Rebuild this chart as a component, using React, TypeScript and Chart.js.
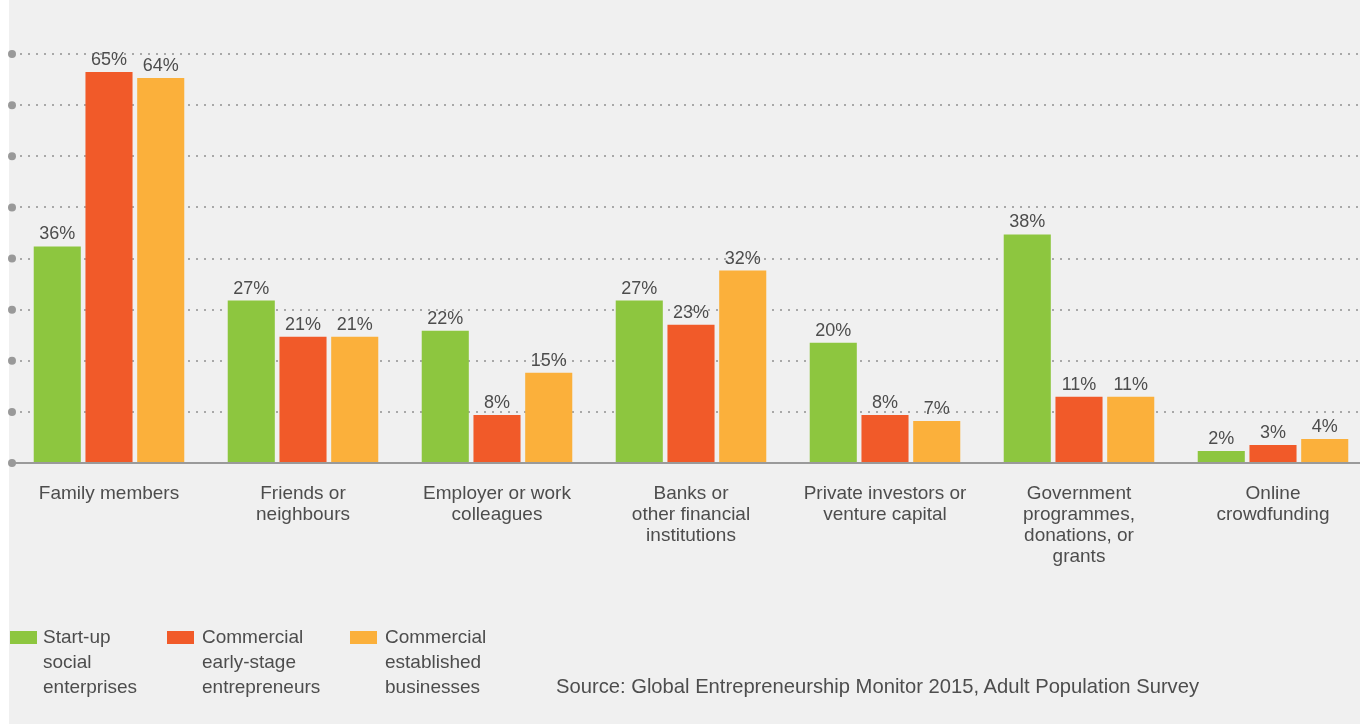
import React, { useEffect, useRef } from "react";
import { Chart, registerables } from "chart.js";

Chart.register(...registerables);

const categories: string[][] = [
  ["Family members"],
  ["Friends or", "neighbours"],
  ["Employer or work", "colleagues"],
  ["Banks or", "other financial", "institutions"],
  ["Private investors or", "venture capital"],
  ["Government", "programmes,", "donations, or", "grants"],
  ["Online", "crowdfunding"],
];

const seriesNames: string[][] = [
  ["Start-up", "social", "enterprises"],
  ["Commercial", "early-stage", "entrepreneurs"],
  ["Commercial", "established", "businesses"],
];

const startupSocial = [36, 27, 22, 27, 20, 38, 2];
const commercialEarly = [65, 21, 8, 23, 8, 11, 3];
const commercialEstablished = [64, 21, 15, 32, 7, 11, 4];

const colors = ["#8DC63F", "#F15A29", "#FBB03B"];
const yMax = 68;
const yStep = 8.5;
const sourceText = "Source: Global Entrepreneurship Monitor 2015, Adult Population Survey";

const FONT = "'Liberation Sans', Arial, sans-serif";
const TEXT = "#4d4d4d";

const decorPlugin = {
  id: "decor",
  afterDatasetsDraw(chart: any) {
    const ctx = chart.ctx;
    const yScale = chart.scales.y;
    const area = chart.chartArea;
    ctx.save();
    ctx.fillStyle = "#999";
    yScale.ticks.forEach((t: any) => {
      const y = yScale.getPixelForValue(t.value);
      ctx.beginPath();
      ctx.arc(area.left, y, 4, 0, Math.PI * 2);
      ctx.fill();
    });
    ctx.font = `18px ${FONT}`;
    ctx.fillStyle = TEXT;
    ctx.textAlign = "center";
    ctx.textBaseline = "middle";
    chart.data.datasets.forEach((ds: any, i: number) => {
      const meta = chart.getDatasetMeta(i);
      meta.data.forEach((bar: any, j: number) => {
        ctx.fillText(ds.data[j] + "%", bar.x, bar.y - 12);
      });
    });
    ctx.restore();
  },
};

export default function App() {
  const ref = useRef<HTMLCanvasElement | null>(null);
  useEffect(() => {
    if (!ref.current) return;
    const chart = new Chart(ref.current, {
      type: "bar",
      data: {
        labels: categories,
        datasets: [startupSocial, commercialEarly, commercialEstablished].map((d, i) => ({
          label: seriesNames[i].join(" "),
          data: d,
          backgroundColor: colors[i],
          borderWidth: 0,
          categoryPercentage: 0.8,
          barPercentage: 0.91,
        })),
      },
      options: {
        animation: false,
        responsive: false,
        devicePixelRatio: 1,
        layout: { padding: { left: 12, right: 10, top: 54, bottom: 137 } },
        plugins: { legend: { display: false }, tooltip: { enabled: false }, title: { display: false } },
        scales: {
          x: {
            grid: { display: false, drawTicks: false },
            border: { display: true, color: "#9a9a9a", width: 2 },
            ticks: {
              autoSkip: false,
              maxRotation: 0,
              padding: 20,
              color: TEXT,
              font: { family: FONT, size: 19, lineHeight: 1.105 },
            },
          },
          y: {
            min: 0,
            max: yMax,
            ticks: { display: false, stepSize: yStep },
            grid: { color: "#a8a8a8", lineWidth: 2, drawTicks: false },
            border: { display: false, dash: [2, 6] },
          },
        },
      },
      plugins: [decorPlugin],
    });
    return () => chart.destroy();
  }, []);

  const legendX = [10, 167, 350];
  const legendTextOffset = [33, 35, 35];
  return (
    <div style={{ position: "fixed", left: 0, top: 0, width: 1360, height: 724, overflow: "hidden", background: "#fff", fontFamily: FONT }}>
      <div style={{ position: "absolute", left: 9, top: 0, width: 1351, height: 724, background: "#f0f0f0" }} />
      <canvas ref={ref} width={1380} height={724} style={{ position: "absolute", left: 0, top: 0, width: 1380, height: 724 }} />
      {seriesNames.map((lines, i) => (
        <div key={i} style={{ position: "absolute", left: legendX[i], top: 624 }}>
          <div style={{ position: "absolute", left: 0, top: 7, width: 27, height: 13, background: colors[i] }} />
          <div style={{ position: "absolute", left: legendTextOffset[i], top: 0, fontSize: 19, lineHeight: "25px", color: TEXT, whiteSpace: "nowrap" }}>
            {lines.map((l, k) => (
              <div key={k}>{l}</div>
            ))}
          </div>
        </div>
      ))}
      <div style={{ position: "absolute", left: 556, top: 673, fontSize: 20.2, lineHeight: "26px", color: TEXT, whiteSpace: "nowrap" }}>
        {sourceText}
      </div>
    </div>
  );
}
